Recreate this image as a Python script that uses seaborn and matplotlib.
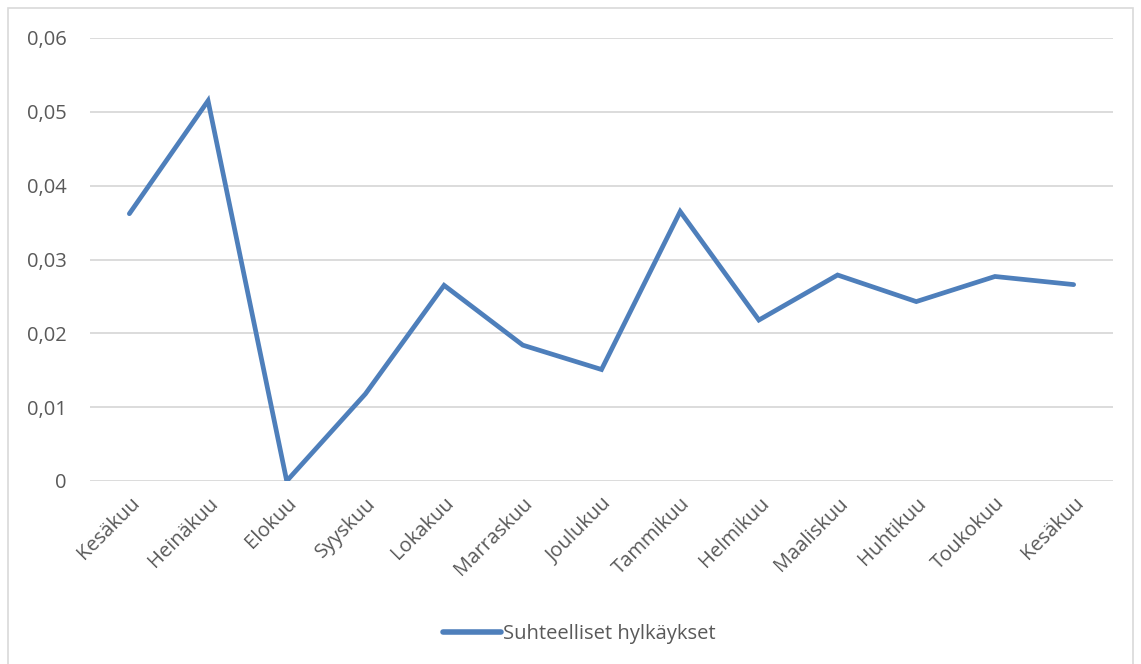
import numpy as np
import pandas as pd
import seaborn as sns
import matplotlib.pyplot as plt
from matplotlib.patches import Rectangle

months = ["Kesäkuu", "Heinäkuu", "Elokuu", "Syyskuu", "Lokakuu", "Marraskuu",
          "Joulukuu", "Tammikuu", "Helmikuu", "Maaliskuu", "Huhtikuu",
          "Toukokuu", "Kesäkuu"]
values = [0.0362, 0.0515, 0.0, 0.0118, 0.0265, 0.0184, 0.0151, 0.0365,
          0.0218, 0.0279, 0.0243, 0.0277, 0.0266]
series_name = "Suhteelliset hylkäykset"
y_ticks = [0, 0.01, 0.02, 0.03, 0.04, 0.05, 0.06]
y_labels = ["0", "0,01", "0,02", "0,03", "0,04", "0,05", "0,06"]

sns.set_style("white")
plt.rcParams['font.family'] = ['Open Sans', 'DejaVu Sans']

df = pd.DataFrame({"pos": np.arange(len(months)), "value": values})

fig = plt.figure(figsize=(11.41, 6.64), dpi=100)
ax = fig.add_axes([90 / 1141, 1 - 481 / 664, (1113 - 90) / 1141, (481 - 38) / 664])

sns.lineplot(data=df, x="pos", y="value", ax=ax, color="#4E7FBB",
             linewidth=3.4, sort=False, label=series_name,
             solid_capstyle="round", solid_joinstyle="miter")

ax.set_xlim(-0.5, len(months) - 0.5)
ax.set_ylim(0, 0.06)
ax.set_yticks(y_ticks)
ax.set_yticklabels(y_labels)
ax.set_xticks(np.arange(len(months)))
ax.set_xticklabels(months, rotation=45, ha="right", rotation_mode="anchor")
ax.set_xlabel("")
ax.set_ylabel("")
ax.grid(axis="y", color="#D9D9D9", linewidth=1.3)
ax.set_axisbelow(True)
for s in ax.spines.values():
    s.set_visible(False)
ax.tick_params(axis="both", length=0, labelsize=14.5, labelcolor="#595959")
ax.tick_params(axis="y", pad=17)
ax.tick_params(axis="x", pad=9)

leg = ax.legend(loc="center", bbox_to_anchor=(0.4785, -0.345), frameon=False,
                fontsize=14.5, handlelength=2.9, handletextpad=0.1)
for t in leg.get_texts():
    t.set_color("#595959")
for h in leg.get_lines():
    h.set_linewidth(4)

fig.patches.append(Rectangle((8 / 1141, -0.05), 1125 / 1141, 1.05 - 8 / 664,
                             transform=fig.transFigure, fill=False,
                             edgecolor="#D9D9D9", linewidth=1.2))

fig.savefig("out.png", dpi=100)
